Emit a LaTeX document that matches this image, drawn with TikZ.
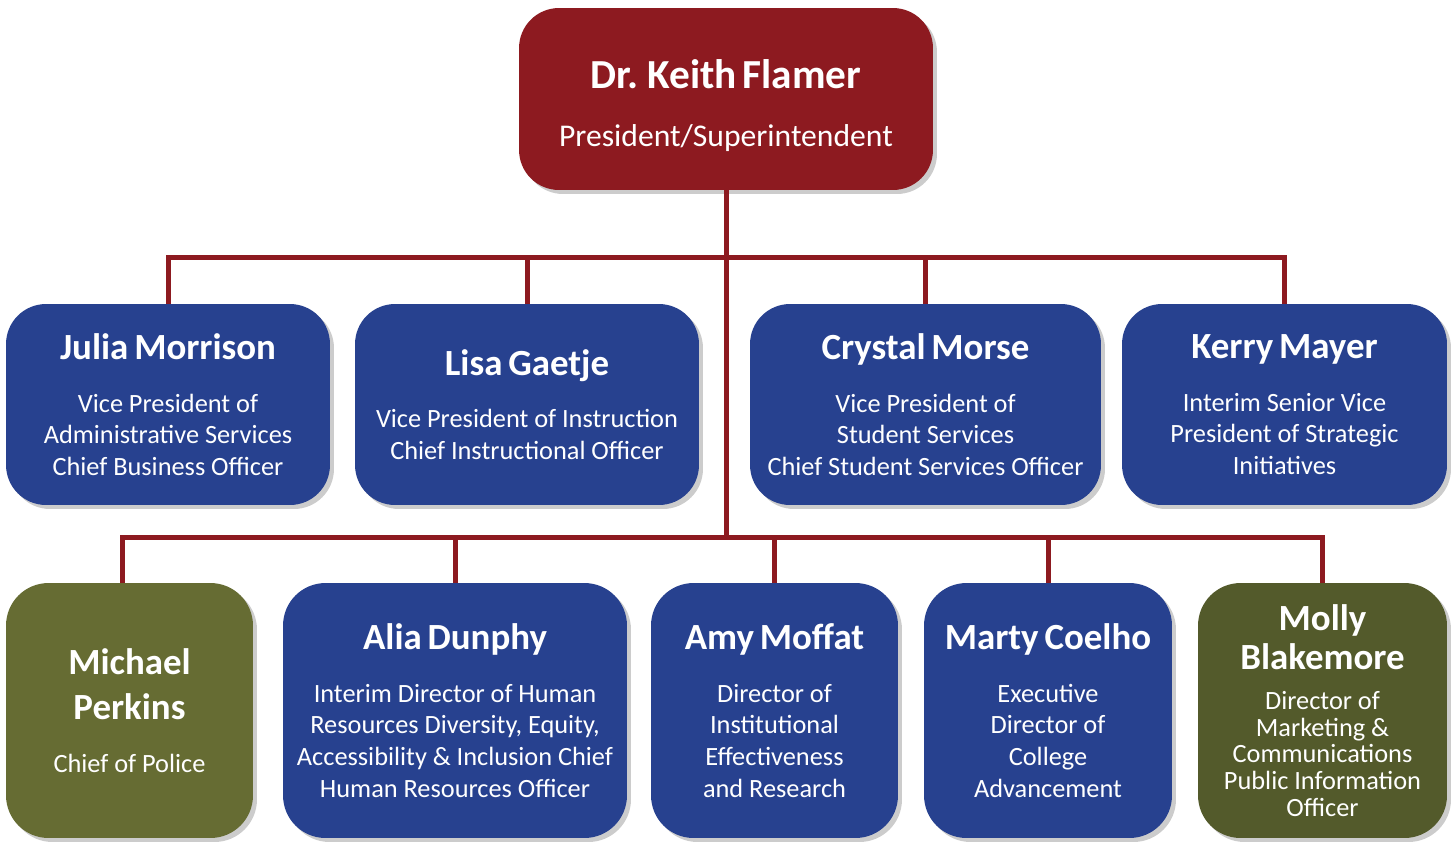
\documentclass[tikz,border=0pt]{standalone}
\usepackage{fontspec}
\setmainfont{Carlito}
\usetikzlibrary{shadows}
\definecolor{presred}{RGB}{141,26,32}
\definecolor{vpblue}{RGB}{39,65,143}
\definecolor{policegreen}{RGB}{102,108,51}
\definecolor{pioolive}{RGB}{83,90,43}
\newcommand{\pname}[2][25.5pt]{{\fontsize{21}{#1}\selectfont\bfseries #2\par}}
\newcommand{\ptitle}[2][18pt]{{\fontsize{15}{#1}\selectfont #2\par}}
\begin{document}
\begin{tikzpicture}[x=0.02cm, y=-0.02cm,
  orgbox/.style={rectangle, rounded corners=0.8cm, text=white, align=center, inner sep=0.1cm,
    drop shadow={shadow xshift=0.08cm, shadow yshift=-0.08cm, fill=black!50, opacity=0.4}},
  redbox/.style={orgbox, fill=presred},
  bluebox/.style={orgbox, fill=vpblue},
  greenbox/.style={orgbox, fill=policegreen},
  olivebox/.style={orgbox, fill=pioolive},
  row2/.style={minimum height=4.02cm},
  row3/.style={minimum height=5.1cm, rounded corners=0.85cm},
  orgline/.style={presred, line width=0.1cm}]
\useasboundingbox (0,0) rectangle (1453,846);
% President
\node[redbox, minimum width=8.28cm, minimum height=3.64cm, text width=8.08cm] (pres) at (726,99)
  {{\fontsize{23.5}{28}\selectfont\bfseries\rule{0pt}{24pt}Dr. Keith Flamer\par}\vspace{11pt}{\fontsize{18}{22}\selectfont President/Superintendent\par}};
% Vice presidents
\node[bluebox, row2, text width=6.28cm] (julia) at (168,404.5)
  {\pname{Julia Morrison}\vspace{12pt}\ptitle{Vice President of\\Administrative Services\\Chief Business Officer}};
\node[bluebox, row2, text width=6.68cm] (lisa) at (527,404.5)
  {\pname{Lisa Gaetje}\vspace{12pt}\ptitle{Vice President of Instruction\\Chief Instructional Officer}};
\node[bluebox, row2, text width=6.82cm] (crystal) at (925.5,404.5)
  {\pname{Crystal Morse}\vspace{12pt}\ptitle{Vice President of\\Student Services\\Chief Student Services Officer}};
\node[bluebox, row2, text width=6.3cm] (kerry) at (1284.5,404.5)
  {\pname{Kerry Mayer}\vspace{12pt}\ptitle{Interim Senior Vice\\President of Strategic\\Initiatives}};
% Directors
\node[greenbox, row3, text width=4.74cm] (michael) at (129.5,710.5)
  {\pname{Michael\\Perkins}\vspace{12pt}\ptitle{Chief of Police}};
\node[bluebox, row3, text width=6.68cm] (alia) at (455,710.5)
  {\pname{Alia Dunphy}\vspace{12pt}\ptitle{Interim Director of Human\\Resources Diversity, Equity,\\Accessibility \& Inclusion Chief\\Human Resources Officer}};
\node[bluebox, row3, text width=4.74cm] (amy) at (774.5,710.5)
  {\pname{Amy Moffat}\vspace{12pt}\ptitle{Director of\\Institutional\\Effectiveness\\and Research}};
\node[bluebox, row3, text width=4.76cm] (marty) at (1048,710.5)
  {\pname{Marty Coelho}\vspace{12pt}\ptitle{Executive\\Director of\\College\\Advancement}};
\node[olivebox, row3, text width=4.78cm] (molly) at (1322.5,710.5)
  {\pname[22.7pt]{Molly\\Blakemore}\vspace{7pt}\ptitle[15.3pt]{Director of\\Marketing \&\\Communications\\Public Information\\Officer}};
% Lines
\coordinate (bus1) at (726,257);
\coordinate (bus2) at (726,537);
\draw[orgline] (pres.south) -- (bus2);
\draw[orgline] (julia.north) |- (bus1) -| (kerry.north);
\draw[orgline] (lisa.north) -- (lisa.north |- bus1);
\draw[orgline] (crystal.north) -- (crystal.north |- bus1);
\draw[orgline] ([xshift=-0.15cm]michael.north) |- (bus2) -| (molly.north);
\foreach \n in {alia, amy, marty}
  \draw[orgline] (\n.north) -- (\n.north |- bus2);
\end{tikzpicture}
\end{document}
